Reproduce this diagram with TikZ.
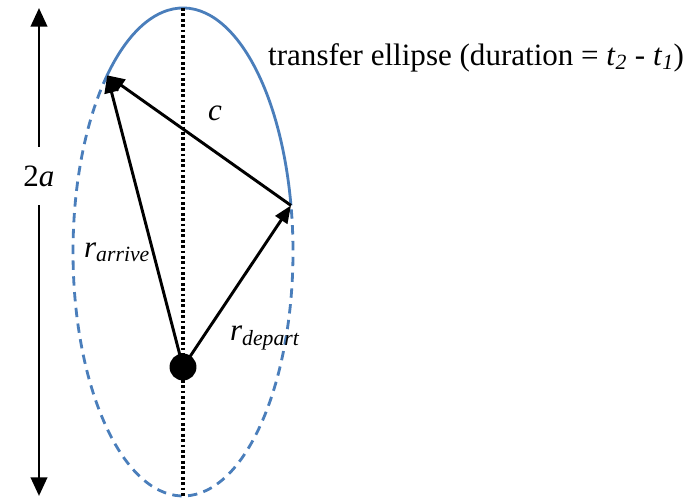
\documentclass[tikz,border=0pt]{standalone}
\usepackage{fontspec}
\setmainfont{Liberation Serif}
\usetikzlibrary{arrows.meta, positioning, calc}
\usepackage{xcolor}
\definecolor{orbitblue}{RGB}{74,126,187}

\begin{document}
\begin{tikzpicture}[x=0.03cm, y=0.03cm, >={Triangle[length=15pt,width=12pt]},
  orbit/.style={orbitblue, line width=2.4pt},
  vec/.style={->, line width=2.5pt},
  lbl/.style={font=\fontsize{26.5}{31}\selectfont}]
  \useasboundingbox (0,0) rectangle (692,502);
  \coordinate (ctr) at (183,250);
  \coordinate (top) at (183,494);
  \coordinate (bot) at (183,6);
  \coordinate (arr) at ($(ctr)+(133.6:110 and 244)$);
  \coordinate (dep) at ($(ctr)+(11:110 and 244)$);
  \draw[orbit] (dep) arc[start angle=11, end angle=133.6, x radius=110, y radius=244];
  \draw[orbit, dash pattern=on 8pt off 5.5pt] (arr) arc[start angle=133.6, end angle=371, x radius=110, y radius=244];
  \draw[line width=2.8pt, dash pattern=on 2.4pt off 2.2pt] (top) -- (bot);
  \node[circle, fill=black, inner sep=0pt, minimum size=23pt] (sun) at (183,135) {};
  \draw[vec] (sun.center) -- (arr);
  \draw[vec] (sun.center) -- (dep);
  \draw[vec] (dep) -- (arr);
  \coordinate (atop) at (39,494);
  \coordinate (abot) at (39,6);
  \node[lbl, inner xsep=2pt, inner ysep=16pt] (twoa) at (39,326) {2\textit{a}};
  \draw[vec, >={Triangle[length=16pt,width=14pt]}] (twoa) -- (atop);
  \draw[vec, >={Triangle[length=16pt,width=14pt]}] (twoa) -- (abot);
  \node[lbl] (chord) at (215,389) {\textit{c}};
  \node[lbl] (rarr) at (117,250) {\textit{r}\textsubscript{\textit{arrive}}};
  \node[lbl] (rdep) at (265,164) {\textit{r}\textsubscript{\textit{depart}}};
  \node[lbl, anchor=west, inner sep=0pt] (title) at (268,444)
    {transfer ellipse (duration = \textit{t}\textsubscript{\textit{2}} - \textit{t}\textsubscript{\textit{1}})};
\end{tikzpicture}
\end{document}
